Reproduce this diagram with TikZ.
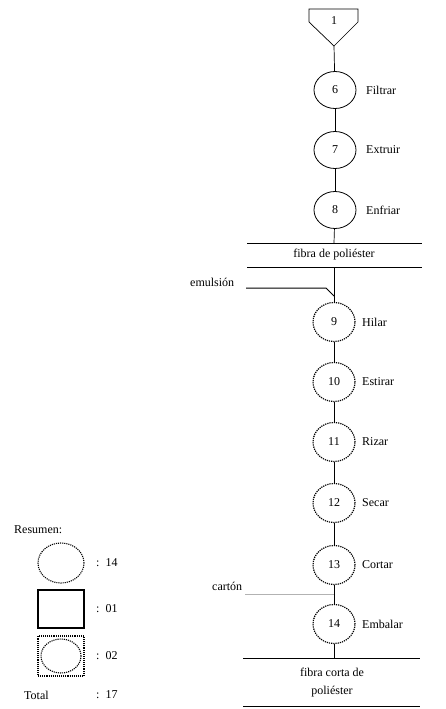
\documentclass[tikz,border=0pt]{standalone}
\usepackage{fontspec}
\setmainfont{Liberation Serif}
\usetikzlibrary{shapes.geometric,arrows.meta}
\begin{document}
\begin{tikzpicture}[x=1pt,y=-1pt,
  every node/.style={font=\fontsize{12}{14}\selectfont},
  opcirc/.style={draw,ellipse,line width=0.8pt,minimum width=42pt,minimum height=37pt,inner sep=0pt},
  dotcirc/.style={draw,ellipse,line width=1.2pt,densely dotted,minimum width=42pt,minimum height=39pt,inner sep=0pt},
  lbl/.style={anchor=west,inner sep=0pt},
  flow/.style={line width=0.7pt},
  bar/.style={line width=0.9pt}]
\useasboundingbox (0,0) rectangle (445,709);
% storage triangle
\draw[line width=0.7pt] (309,9) -- (358,9) -- (358,22) -- (334,46) -- (309,22) -- cycle;
\node (t1) at (334,21) {1};
\coordinate (t1tip) at (334,46);
% operations
\node[opcirc] (n6) at (335,90) {6};
\node[lbl] (l6) at (366,90) {Filtrar};
\node[opcirc] (n7) at (335,150) {7};
\node[lbl] (l7) at (366,150) {Extruir};
\node[opcirc] (n8) at (335,210) {8};
\node[lbl] (l8) at (366,210) {Enfriar};
\draw[flow] (t1tip) -- (n6);
\draw[flow] (n6) -- (n7);
\draw[flow] (n7) -- (n8);
% fibra de poliester
\coordinate (b1l) at (247,243);
\coordinate (b1r) at (422,243);
\coordinate (b2l) at (247,267);
\coordinate (b2r) at (422,267);
\draw[bar] (b1l) -- (b1r);
\draw[bar] (b2l) -- (b2r);
\node (fp) at (334,255) {fibra de poliéster};
\coordinate (b1c) at (334,243);
\coordinate (b2c) at (334,267);
\draw[flow] (n8) -- (b1c);
% emulsion
\node[lbl] (em) at (190,282) {emulsión};
\coordinate (emA) at (246,288);
\coordinate (emB) at (326,288);
\coordinate (emJ) at (334,296);
\draw[line width=1pt] (emA) -- (emB) -- (emJ);
% lower nodes
\node[dotcirc] (n9) at (334,322) {9};
\node[lbl] (l9) at (362,322) {Hilar};
\node[dotcirc] (n10) at (334,382) {10};
\node[lbl] (l10) at (362,382) {Estirar};
\node[dotcirc] (n11) at (334,442) {11};
\node[lbl] (l11) at (362,442) {Rizar};
\node[dotcirc] (n12) at (334,503) {12};
\node[lbl] (l12) at (362,503) {Secar};
\node[dotcirc] (n13) at (334,565) {13};
\node[lbl] (l13) at (362,565) {Cortar};
\node[dotcirc] (n14) at (334,624) {14};
\node[lbl] (l14) at (362,624) {Embalar};
\draw[flow] (b2c) -- (n9);
\draw[flow] (n9) -- (n10);
\draw[flow] (n10) -- (n11);
\draw[flow] (n11) -- (n12);
\draw[flow] (n12) -- (n13);
\draw[flow] (n13) -- (n14);
% carton input
\node[lbl] (ct) at (212,586) {cartón};
\coordinate (ctA) at (245,594);
\coordinate (ctB) at (334,594);
\draw[flow,gray!60] (ctA) -- (ctB);
% final product
\coordinate (b3l) at (243,658);
\coordinate (b3r) at (420,658);
\coordinate (b3c) at (334,658);
\coordinate (b4l) at (243,706);
\coordinate (b4r) at (420,706);
\draw[bar] (b3l) -- (b3r);
\draw[bar] (b4l) -- (b4r);
\draw[flow] (n14) -- (b3c);
\node (fc1) at (332,672) {fibra corta de};
\node (fc2) at (332,692) {poliéster};
% legend
\node[lbl] (res) at (14,530) {Resumen:};
\node[draw,ellipse,densely dotted,line width=1.1pt,minimum width=46pt,minimum height=40pt] (lc) at (61,563) {};
\node[lbl] (lct) at (96,563) {:\ \ 14};
\node[draw,rectangle,line width=1.3pt,minimum width=46pt,minimum height=38pt] (ls) at (61,609) {};
\node[lbl] (lst) at (96,609) {:\ \ 01};
\node[draw,rectangle,densely dotted,line width=1.1pt,minimum width=46pt,minimum height=40pt] (lb) at (61,656) {};
\node[draw,ellipse,densely dotted,line width=1.1pt,minimum width=40pt,minimum height=34pt] (lbc) at (61,656) {};
\node[lbl] (lbt) at (96,656) {:\ \ 02};
\node[lbl] (tot) at (24,695) {Total};
\node[lbl] (tott) at (96,695) {:\ \ 17};
\end{tikzpicture}
\end{document}
